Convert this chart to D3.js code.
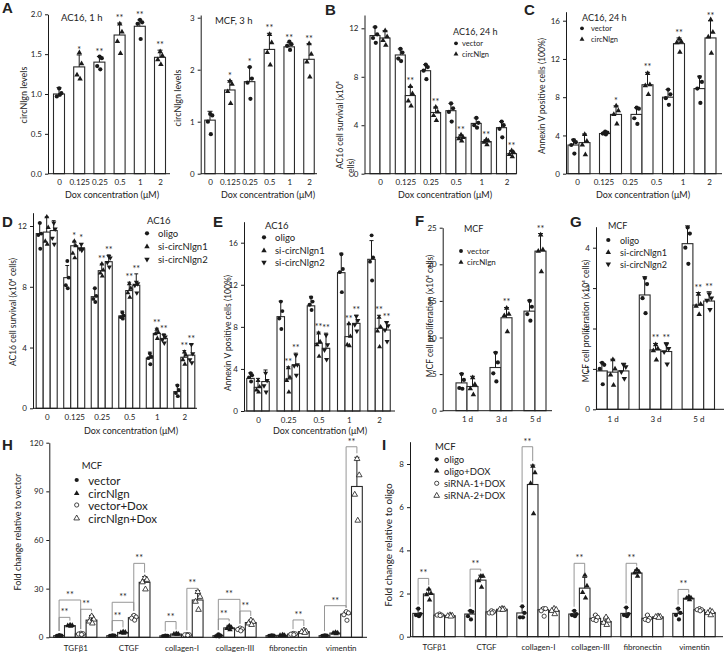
<!DOCTYPE html>
<html><head><meta charset="utf-8">
<script src="https://cdn.jsdelivr.net/npm/d3@7"></script>
<style>body{margin:0;background:#fff}text{font-family:Lato,"DejaVu Sans",sans-serif;fill:#222}</style>
</head><body>
<svg id="fig" width="726" height="652"></svg>
<script>
// ---------------- DATA ----------------
const doseCats = ["0","0.125","0.25","0.5","1","2"];
// A (left) AC16, 1 h
const a1Mean = [1.00, 1.34, 1.40, 1.74, 1.85, 1.46];
const a1Err  = [1.08, 1.49, 1.47, 1.89, 1.93, 1.55];
const a1Pts  = [[1.07,1.01,0.97,0.99],[1.52,1.38,1.24,1.19],[1.47,1.45,1.35,1.31],[1.88,1.78,1.66,1.51],[1.93,1.90,1.88,1.69],[1.53,1.48,1.43,1.37]];
const a1Sig  = ["","*","**","**","**","**"];
// A (right) MCF, 3 h
const a2Mean = [1.03, 1.61, 1.77, 2.39, 2.44, 2.20];
const a2Err  = [1.20, 1.79, 2.05, 2.70, 2.52, 2.50];
const a2Pts  = [[1.15,1.12,1.00,0.76],[1.78,1.72,1.58,1.35],[2.05,1.83,1.75,1.44],[2.68,2.52,2.33,2.09],[2.54,2.49,2.46,2.38],[2.50,2.30,2.15,1.86]];
const a2Sig  = ["","*","*","**","**","**"];
// B AC16 cell survival
const bSeries = ["vector","circNlgn"];
const bMean = [[11.4,9.8,8.5,5.2,4.15,3.8],[11.2,6.45,5.05,3.0,2.65,1.65]];
const bErr  = [[12.1,10.3,9.0,5.8,4.6,4.3],[11.8,7.2,5.5,3.2,2.8,1.9]];
const bPts  = [
  [[12.1,11.5,11.2,10.8],[10.3,10.0,9.5,9.3],[9.0,8.8,8.5,7.8],[5.8,5.4,5.1,4.3],[4.6,4.2,4.0,3.8],[4.3,4.0,3.7,3.0]],
  [[11.8,11.3,11.0,10.6],[7.2,6.6,6.0,5.6],[5.5,5.1,4.8,4.4],[3.2,3.0,2.9,2.7],[2.8,2.7,2.6,2.4],[1.9,1.75,1.6,1.4]]];
const bSig = [["","","","","",""],["","**","**","**","**","**"]];
// C Annexin V (5 bar groups, 6 tick labels as in the figure)
const cGroups = ["g1","g2","g3","g4","g5"];
const cLabels = ["0","0.125","0.25","0.5","1","2"];
const cMean = [[3.0,4.2,6.2,8.0,8.9],[3.25,6.2,9.3,13.6,14.2]];
const cErr  = [[3.6,4.4,6.9,8.8,10.2],[4.15,7.1,10.6,14.2,16.0]];
const cPts  = [
  [[3.5,3.3,3.0,2.1],[4.4,4.3,4.2,4.1],[6.9,6.8,5.8,5.2],[8.8,8.3,7.9,7.2],[10.1,9.6,8.9,7.4]],
  [[4.1,3.4,3.0,2.0],[7.1,6.6,6.2,5.2],[10.5,9.3,9.2,8.3],[14.1,13.8,13.7,12.7],[16.1,14.8,14.3,12.6]]];
const cSig = [["","","","",""],["","*","**","**","**"]];
// D AC16 survival, siRNA
const siSeries = ["oligo","si-circNlgn1","si-circNlgn2"];
const dMean = [[11.5,8.6,7.35,6.08,3.3,1.1],[11.6,10.7,9.06,7.75,4.93,3.36],[11.7,10.5,9.65,8.1,4.6,3.5]];
const dErr  = [[12.2,9.4,7.9,6.4,3.7,1.55],[12.6,11.0,9.5,8.3,5.27,3.8],[12.35,10.85,10.1,8.85,4.9,4.2]];
const dPts  = [
  [[12.2,11.5,11.4,10.5],[9.7,8.6,8.1,7.9],[7.9,7.4,7.2,7.0],[6.3,6.1,6.0,5.9],[3.6,3.4,3.3,2.9],[1.5,1.2,1.0,0.8]],
  [[12.6,11.9,11.0,10.8],[11.0,10.7,10.2,9.9],[9.5,9.1,8.9,8.7],[8.2,7.9,7.6,7.3],[5.2,5.0,4.9,4.6],[3.7,3.5,3.2,2.9]],
  [[12.2,11.8,11.2,10.8],[10.8,10.5,10.5,10.4],[10.0,9.9,9.6,9.3],[8.3,8.2,8.1,7.6],[4.8,4.7,4.5,4.3],[4.2,3.6,3.2,3.0]]];
const dSig = [["","","","","",""],["","*","**","**","**","**"],["","*","**","**","**","**"]];
// E Annexin V, siRNA
const eCats = ["0","0.25","0.5","1","2"];
const eMean = [[3.1,8.97,10.0,13.15,14.42],[2.25,3.04,6.43,7.07,7.86],[2.8,4.37,5.96,8.33,7.7]];
const eErr  = [[3.65,10.45,10.9,15.0,16.2],[3.1,4.2,7.5,8.3,9.1],[3.9,5.5,7.4,9.1,8.5]];
const ePts  = [
  [[3.6,3.4,3.2,2.8],[10.4,9.5,8.8,7.8],[10.8,10.4,10.1,9.6],[14.9,13.5,13.2,11.3],[16.7,14.6,14.2,12.4]],
  [[2.9,2.3,2.0,1.8],[4.1,3.2,2.9,1.8],[7.4,6.6,6.3,5.2],[8.3,7.1,6.3,6.2],[8.9,8.0,7.6,6.1]],
  [[3.6,2.9,2.4,1.8],[5.3,4.4,4.3,3.4],[7.2,6.3,5.8,4.9],[9.0,8.6,8.2,7.6],[8.4,8.1,7.7,6.6]]];
const eSig = [["","","","",""],["","**","**","**","**"],["","**","**","**","**"]];
// F MCF proliferation
const dayCats = ["1 d","3 d","5 d"];
const fMean = [[3.8,5.9,13.6],[3.3,12.7,21.8]];
const fErr  = [[5.1,8.0,15.1],[4.7,14.1,24.2]];
const fPts  = [
  [[5.0,4.2,3.1,3.0],[7.9,6.6,5.1,4.0],[15.0,14.2,13.2,12.3]],
  [[4.5,3.6,3.0,2.2],[14.0,13.2,13.0,10.8],[24.0,22.0,21.8,19.0]]];
const fSig = [["","",""],["","**","**"]];
// G MCF proliferation, siRNA
const gMean = [[0.95,2.83,4.1],[0.92,1.47,2.58],[0.95,1.43,2.68]];
const gErr  = [[1.16,3.28,4.54],[1.24,1.63,2.89],[1.14,1.65,2.91]];
const gPts  = [
  [[1.15,1.1,1.0,0.62],[3.25,3.1,2.75,2.38],[4.5,4.35,4.0,3.6]],
  [[1.23,1.0,0.85,0.6],[1.6,1.5,1.45,1.22],[2.85,2.6,2.55,2.35]],
  [[1.1,1.05,0.93,0.76],[1.6,1.5,1.42,1.12],[2.85,2.75,2.7,2.47]]];
const gSig = [["","",""],["","**","**"],["","**","**"]];
// H fold change relative to vector
const geneCats = ["TGFβ1","CTGF","collagen-I","collagen-III","fibronectin","vimentin"];
const hSeries = ["vector","circNlgn","vector+Dox","circNlgn+Dox"];
const hMean = [[1.0,1.0,0.9,1.0,1.0,1.0],[7.2,3.0,2.0,5.8,1.2,2.6],[2.1,12.1,1.5,4.9,2.0,14.3],[10.6,33.9,23.0,9.1,3.5,93.0]];
const hErr  = [[1.4,1.3,1.2,2.0,1.3,1.3],[7.8,3.6,2.3,7.4,1.5,3.3],[2.6,13.8,1.8,5.9,2.6,15.8],[13.5,37.4,28.8,10.7,4.5,111]];
const hPts  = [
  [[1.3,1.0,0.9,0.8],[1.2,1.0,0.9,0.9],[1.1,0.9,0.8,0.8],[1.8,1.0,0.7,0.5],[1.2,1.0,0.9,0.9],[1.2,1.0,0.9,0.9]],
  [[7.6,7.3,7.1,6.8],[3.4,3.1,2.9,2.6],[2.2,2.0,1.9,1.9],[7.0,6.0,5.5,4.7],[1.4,1.2,1.1,1.1],[3.0,2.7,2.5,2.2]],
  [[2.5,2.2,2.0,1.7],[13.5,12.5,11.8,10.6],[1.7,1.6,1.5,1.2],[5.7,5.1,4.8,4.0],[2.4,2.1,1.9,1.6],[15.8,15.0,13.9,10.5]],
  [[13.0,11.0,9.8,8.6],[36.5,35.5,34.0,29.6],[28.0,25.0,22.0,17.0],[10.5,9.6,8.6,7.7],[4.3,3.6,3.3,2.8],[110,100,88,72]]];
// brackets: [gene index, from series, to series, level]
const hBrackets = [[0,0,1,12.3],[0,0,2,23.0],[0,2,3,17.3],[1,0,1,10.3],[1,0,2,21.6],[1,2,3,45.6],
  [2,0,1,9.7],[2,2,3,30.2],[3,0,1,11.3],[3,0,2,23.4],[3,2,3,16.2],[4,2,3,10.7],[5,0,2,19.5],[5,2,3,117.5]];
// I fold change relative to oligo
const iSeries = ["oligo","oligo+DOX","siRNA-1+DOX","siRNA-2+DOX"];
const iMean = [[1.08,1.05,1.1,1.05,1.08,1.08],[1.98,2.62,7.05,2.25,2.95,1.78],[1.0,1.15,1.25,0.85,0.85,1.25],[0.97,1.27,1.2,0.7,0.92,1.12]];
const iErr  = [[1.3,1.2,1.4,1.2,1.35,1.3],[2.2,2.85,7.95,2.75,3.1,1.85],[1.05,1.2,1.35,1.0,1.0,1.3],[1.02,1.32,1.32,0.9,0.98,1.2]];
const iPts  = [
  [[1.3,1.05,1.0,0.95],[1.2,1.15,0.95,0.8],[1.4,1.1,0.9,0.9],[1.2,1.05,1.0,0.95],[1.35,1.05,1.0,0.95],[1.3,1.1,1.0,0.8]],
  [[2.2,2.0,1.95,1.7],[2.8,2.8,2.6,2.3],[7.9,7.6,7.1,5.7],[2.85,2.35,2.05,1.8],[3.1,3.0,2.95,2.8],[1.85,1.8,1.78,1.72]],
  [[1.05,1.0,1.0,0.98],[1.2,1.15,1.1,1.1],[1.3,1.3,1.2,0.95],[1.0,0.9,0.8,0.75],[1.0,0.85,0.8,0.75],[1.3,1.25,1.25,1.2]],
  [[1.0,0.98,0.96,0.94],[1.3,1.28,1.26,1.25],[1.3,1.25,1.2,1.05],[0.9,0.75,0.65,0.55],[0.95,0.93,0.92,0.88],[1.2,1.15,1.1,1.0]]];
const iBrackets = [[0,0,1,2.7],[1,0,1,3.13],[2,0,1,8.8],[3,0,1,3.4],[4,0,1,3.4],[5,0,1,2.19]];

// ---------------- DRAWING ----------------
const svg = d3.select("#fig");
const INK = "#1a1a1a";
const MK = {
  circle:{t:d3.symbolCircle,f:true,r:0,s:14},
  tri:{t:d3.symbolTriangle,f:true,r:0,s:13},
  triDown:{t:d3.symbolTriangle,f:true,r:180,s:13},
  ocircle:{t:d3.symbolCircle,f:false,r:0,s:14},
  otri:{t:d3.symbolTriangle,f:false,r:0,s:14}
};
function marker(g,kind,x,y,scale=1){
  const m = MK[kind];
  g.append("path").attr("d",d3.symbol(m.t,m.s*scale)())
   .attr("transform",`translate(${x},${y}) rotate(${m.r})`)
   .attr("fill",m.f?INK:"#fff").attr("stroke",INK).attr("stroke-width",m.f?0:0.8);
}
const jit = [0.02,0.27,-0.25,0.1];

function panel(c){
  const g = svg.append("g");
  const nS = c.means.length;
  const y = d3.scaleLinear().domain([0,c.yRef]).range([c.y0,c.yRefPx]);
  const yAx = d3.scaleLinear().domain([0,y.invert(c.yTopPx)]).range([c.y0,c.yTopPx]);
  const gx = d3.scalePoint().domain(c.groups).range([c.c0,c.cN]);
  const recs = [];
  c.means.forEach((row,s)=>row.forEach((v,gi)=>{
    recs.push({s,gi,v,e:c.errs[s][gi],pts:c.pts[s][gi],sig:c.sig?c.sig[s][gi]:"",
      cx: gx(c.groups[gi]) + (s-(nS-1)/2)*c.barW});
  }));
  // bars
  g.selectAll("rect.bar").data(recs).join("rect").attr("class","bar")
   .attr("x",d=>d.cx-c.barW/2).attr("y",d=>y(d.v)).attr("width",c.barW).attr("height",d=>c.y0-y(d.v))
   .attr("fill","#fff").attr("stroke","#2a2a2a").attr("stroke-width",1.1);
  // error bars
  const cap = Math.min(5,c.barW*0.55);
  recs.forEach(d=>{
    g.append("line").attr("x1",d.cx).attr("x2",d.cx).attr("y1",y(d.v)).attr("y2",y(d.e)).attr("stroke",INK).attr("stroke-width",1);
    g.append("line").attr("x1",d.cx-cap/2).attr("x2",d.cx+cap/2).attr("y1",y(d.e)).attr("y2",y(d.e)).attr("stroke",INK).attr("stroke-width",1);
  });
  // points
  recs.forEach(d=>{
    d.pts.forEach((p,k)=>marker(g,c.marker(d.s,d.gi),d.cx+jit[k]*c.barW*0.8,y(p),c.mScale||1));
  });
  // significance
  recs.filter(d=>d.sig).forEach(d=>{
    g.append("text").attr("x",d.cx).attr("y",y(d.e)-2).attr("text-anchor","middle")
     .style("font-size","9px").text(d.sig);
  });
  // brackets
  (c.brackets||[]).forEach(([gi,s1,s2,lev])=>{
    const x1 = recs.find(r=>r.gi===gi&&r.s===s1), x2 = recs.find(r=>r.gi===gi&&r.s===s2);
    const yl = y(lev);
    const leg = r => Math.max(yl+2, y(r.e)-4);
    g.append("path").attr("d",`M${x1.cx},${leg(x1)}V${yl}H${x2.cx}V${leg(x2)}`)
     .attr("fill","none").attr("stroke","#8a8a8a").attr("stroke-width",0.9);
    g.append("text").attr("x",(x1.cx+x2.cx)/2).attr("y",yl-2).attr("text-anchor","middle")
     .style("font-size","9px").text("**");
  });
  // y axis
  const ya = g.append("g").attr("transform",`translate(${c.x0},0)`)
    .call(d3.axisLeft(yAx).tickValues(c.ticks).tickSize(3).tickSizeOuter(0).tickPadding(3).tickFormat(c.fmt||d3.format("d")));
  ya.selectAll("text").style("font-size","8px").style("font-family","Lato").attr("fill","#333");
  ya.selectAll("line,path").attr("stroke",INK);
  // x axis baseline
  g.append("line").attr("x1",c.x0).attr("x2",c.x1).attr("y1",c.y0).attr("y2",c.y0).attr("stroke",INK).attr("stroke-width",1);
  // x tick labels
  const labs = c.labels || c.groups;
  const lx = d3.scalePoint().domain(labs).range(c.labRange || [c.c0,c.cN]);
  const xa = g.append("g").attr("transform",`translate(0,${c.y0})`)
    .call(d3.axisBottom(lx).tickSize(0).tickPadding(c.labPad||6));
  xa.select(".domain").remove();
  xa.selectAll("text").style("font-size",(c.labSize||8)+"px").style("font-family","Lato").attr("fill","#333");
  // titles
  if(c.xTitle) g.append("text").attr("x",c.xTitle[0]).attr("y",c.xTitle[1]).attr("text-anchor","middle")
     .style("font-size","9px").text("Dox concentration (μM)");
  if(c.yTitle){
    const [tx,ty,txt,fs] = c.yTitle;
    g.append("text").attr("transform",`translate(${tx},${ty}) rotate(-90)`).attr("text-anchor","middle")
     .attr("dominant-baseline","central").style("font-size",(fs||8.5)+"px").text(txt);
  }
  return g;
}

function legend(title, tx, ty, tfs, items, mx, tx2, ys, fs, mScale=1){
  const g = svg.append("g");
  if(title) g.append("text").attr("x",tx).attr("y",ty).style("font-size",tfs+"px").text(title);
  items.forEach((it,i)=>{
    marker(g,it[1],mx,ys[i],mScale);
    g.append("text").attr("x",tx2).attr("y",ys[i]).attr("dominant-baseline","central").style("font-size",fs+"px").text(it[0]);
  });
}
function letter(t,x,y){
  svg.append("text").attr("x",x).attr("y",y).style("font-family","'Liberation Sans',Arial,sans-serif")
    .style("font-weight","bold").style("font-size","15px").attr("fill","#111").text(t);
}

const alt = (s,gi)=> gi%2===0?"circle":"tri";
const two = s=> s===0?"circle":"tri";
const three = s=> ["circle","tri","triDown"][s];
const four = s=> ["circle","tri","ocircle","otri"][s];

// A left
panel({groups:doseCats,means:[a1Mean],errs:[a1Err],pts:[a1Pts],sig:[a1Sig],marker:alt,
  x0:48,x1:170,c0:59,cN:160,barW:11,y0:173.7,yRef:2,yRefPx:14.3,yTopPx:14.3,ticks:[0,0.5,1,1.5,2],fmt:d3.format(".1f"),
  xTitle:[112,198],yTitle:[23,95,"circNlgn levels",9]});
svg.append("text").attr("x",61).attr("y",20.5).style("font-size","9.5px").text("AC16, 1 h");
// A right
panel({groups:doseCats,means:[a2Mean],errs:[a2Err],pts:[a2Pts],sig:[a2Sig],marker:alt,
  x0:200.7,x1:317,c0:210,cN:309,barW:10.5,y0:173.7,yRef:3,yRefPx:17.7,yTopPx:15,ticks:[0,1,2,3],
  xTitle:[268,198],yTitle:[177,98,"circNlgn levels",9]});
svg.append("text").attr("x",215).attr("y",24).style("font-size","9.5px").text("MCF, 3 h");
// B
const gB = panel({groups:doseCats,means:bMean,errs:bErr,pts:bPts,sig:bSig,marker:two,
  x0:364.5,x1:516,c0:380,cN:506.5,barW:10,y0:173.7,yRef:12,yRefPx:28.3,yTopPx:15,ticks:[0,4,8,12],
  xTitle:[445,198]});
gB.append("text").attr("transform","translate(340,169) rotate(-90)").attr("dominant-baseline","central").style("font-size","8.5px").text("AC16 cell survival (x10⁴");
gB.append("text").attr("transform","translate(351,177) rotate(-90)").attr("dominant-baseline","central").style("font-size","8.5px").text("cells)");
legend("AC16, 24 h",453,35,9,[[bSeries[0],"circle"],[bSeries[1],"tri"]],456,462,[43.3,54],7.5,0.8);
// C
panel({groups:cGroups,labels:cLabels,labRange:[577,709],means:cMean,errs:cErr,pts:cPts,sig:cSig,marker:two,
  x0:566,x1:722,c0:579,cN:705,barW:11,y0:173.7,yRef:16,yRefPx:20.7,yTopPx:11.7,ticks:[0,4,8,12,16],
  xTitle:[643,198],yTitle:[542,96,"Annexin V positive cells (100%)"]});
legend("AC16, 24 h",582,20.7,9,[[bSeries[0],"circle"],[bSeries[1],"tri"]],582,591,[28.3,39.3],7.5,0.8);
// D
panel({groups:doseCats,means:dMean,errs:dErr,pts:dPts,sig:dSig,marker:three,mScale:0.85,
  x0:33,x1:197,c0:46.7,cN:184.3,barW:7,y0:408.3,yRef:12,yRefPx:226,yTopPx:212.7,ticks:[0,4,8,12],
  xTitle:[131,434],yTitle:[13,312,"AC16 cell survival (x10⁴ cells)"]});
legend("AC16",147,224,9.5,siSeries.map((s,i)=>[s,three(i)]),147,158,[233.3,246.7,259.3],9.5);
// E
panel({groups:eCats,means:eMean,errs:eErr,pts:ePts,sig:eSig,marker:three,mScale:0.85,
  x0:244,x1:395,c0:258,cN:379,barW:7.5,y0:411,yRef:16,yRefPx:242.7,yTopPx:221.7,ticks:[0,4,8,12,16],
  xTitle:[320,434],yTitle:[228,333,"Annexin V positive cells (100%)"]});
legend("AC16",265,228.5,9.5,siSeries.map((s,i)=>[s,three(i)]),264,275,[237.3,250.7,262.3],9.5);
// F
panel({groups:dayCats,means:fMean,errs:fErr,pts:fPts,sig:fSig,marker:two,
  x0:442.7,x1:552,c0:467,cN:535,barW:11,y0:410.7,yRef:25,yRefPx:227.7,yTopPx:227.7,ticks:[0,5,10,15,20,25],
  labPad:6,yTitle:[430,316,"MCF cell proliferation (x10⁴ cells)"]});
legend("MCF",464,231.5,9,[[bSeries[0],"circle"],[bSeries[1],"tri"]],461,467,[251,262.3],8,0.85);
// G
panel({groups:dayCats,means:gMean,errs:gErr,pts:gPts,sig:gSig,marker:three,
  x0:596,x1:724,c0:612.7,cN:698.3,barW:10.8,y0:409.3,yRef:4,yRefPx:247.7,yTopPx:226.7,ticks:[0,1,2,3,4],
  labPad:7,yTitle:[586,321,"MCF cell proliferation (x10⁴ cells)"]});
legend("MCF",608,228.5,9,siSeries.map((s,i)=>[s,three(i)]),608.3,620,[240,252.3,264],9);
// H
panel({groups:geneCats,means:hMean,errs:hErr,pts:hPts,marker:four,brackets:hBrackets,
  x0:49.3,x1:367,c0:75.3,cN:340.7,barW:10.8,y0:637.3,yRef:120,yRefPx:442.7,yTopPx:442.7,ticks:[0,30,60,90,120],
  labPad:8,yTitle:[17,532,"Fold change relative to vector",9]});
legend("MCF",81.7,468.5,9.5,hSeries.map((s,i)=>[s,four(i)]),76.7,88.3,[480,493.3,505,518.3],11.5);
// I
panel({groups:geneCats,means:iMean,errs:iErr,pts:iPts,marker:four,brackets:iBrackets,
  x0:410,x1:723,c0:434,cN:694,barW:10.6,y0:636.7,yRef:8,yRefPx:464,yTopPx:441.7,ticks:[0,2,4,6,8],
  labPad:8,yTitle:[388,545,"Fold change  relative to oligo",10]});
legend("MCF",435,450,9.5,iSeries.map((s,i)=>[s,four(i)]),436.7,444,[459.3,471,483.3,495.7],9.5);

// panel letters
letter("A",2,13); letter("B",325,15); letter("C",524,15); letter("D",2,227); letter("E",213,227);
letter("F",415,226); letter("G",570,227); letter("H",2,450); letter("I",382,450);
</script>
</body></html>
